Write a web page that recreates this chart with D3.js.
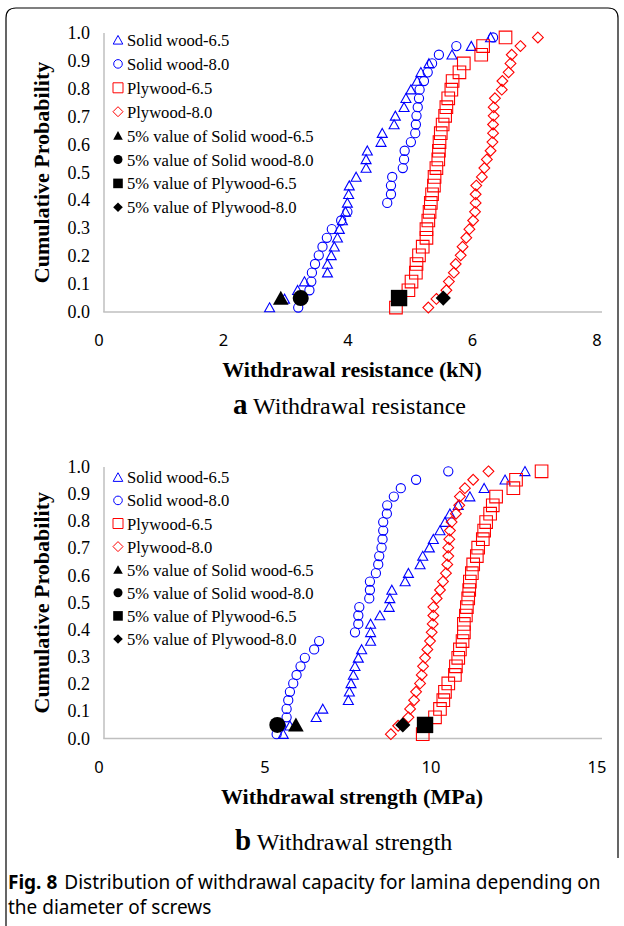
<!DOCTYPE html>
<html>
<head>
<meta charset="utf-8">
<script src="https://cdn.jsdelivr.net/npm/d3@7"></script>
<style>
body { margin: 0; background: #fff; }
</style>
</head>
<body>
<svg id="fig" width="624" height="926"></svg>
<script>
// plotting positions shared by every series (32 specimens each)
var probLevels = [0.016, 0.047, 0.078, 0.109, 0.141, 0.172, 0.203, 0.234, 0.266, 0.297, 0.328, 0.359, 0.391, 0.422, 0.453, 0.484,
                  0.516, 0.547, 0.578, 0.609, 0.641, 0.672, 0.703, 0.734, 0.766, 0.797, 0.828, 0.859, 0.891, 0.922, 0.953, 0.984];

var seriesNames = ["Solid wood-6.5", "Solid wood-8.0", "Plywood-6.5", "Plywood-8.0"];
var fifthNames = ["5% value of Solid wood-6.5", "5% value of Solid wood-8.0", "5% value of Plywood-6.5", "5% value of Plywood-8.0"];
var fifthProb = 0.05;

// (a) withdrawal resistance, kN
var aSolid65 = [2.66, 2.90, 3.11, 3.22, 3.59, 3.59, 3.65, 3.70, 3.75, 3.78, 3.83, 3.88, 3.91, 3.93, 3.94, 4.05,
                4.21, 4.21, 4.23, 4.45, 4.47, 4.66, 4.68, 4.82, 4.85, 4.93, 5.03, 5.09, 5.22, 5.59, 5.90, 6.21];
var aSolid80 = [3.12, 3.20, 3.30, 3.33, 3.34, 3.39, 3.45, 3.51, 3.58, 3.66, 3.81, 3.91, 4.55, 4.61, 4.61, 4.63,
                4.80, 4.82, 4.83, 4.93, 5.00, 5.01, 5.02, 5.04, 5.06, 5.07, 5.14, 5.20, 5.27, 5.38, 5.66, 6.25];
var aPly65 = [4.69, 4.74, 4.89, 4.94, 5.01, 5.02, 5.06, 5.12, 5.18, 5.18, 5.21, 5.23, 5.25, 5.27, 5.30, 5.31,
              5.34, 5.37, 5.38, 5.39, 5.41, 5.44, 5.48, 5.50, 5.53, 5.58, 5.60, 5.71, 5.78, 6.06, 6.09, 6.45];
var aPly80 = [5.21, 5.34, 5.50, 5.54, 5.62, 5.65, 5.73, 5.76, 5.82, 5.87, 5.93, 5.96, 5.97, 5.97, 5.98, 6.07,
              6.11, 6.15, 6.21, 6.24, 6.25, 6.25, 6.26, 6.26, 6.28, 6.39, 6.40, 6.50, 6.53, 6.55, 6.69, 6.97];
var aFifth = [2.84, 3.16, 4.74, 5.45];
var aTicksX = [0, 2, 4, 6, 8];

// (b) withdrawal strength, MPa
var bSolid65 = [5.40, 5.60, 6.39, 6.59, 7.36, 7.39, 7.44, 7.51, 7.56, 7.66, 7.76, 8.03, 8.03, 8.03, 8.31, 8.59,
                8.61, 8.67, 9.07, 9.17, 9.52, 9.60, 9.80, 9.92, 10.12, 10.27, 10.42, 10.67, 11.02, 11.45, 12.08, 12.68];
var bSolid80 = [5.20, 5.33, 5.50, 5.50, 5.55, 5.60, 5.70, 5.80, 5.92, 6.05, 6.33, 6.48, 7.56, 7.66, 7.66, 7.69,
                7.99, 8.01, 8.01, 8.19, 8.26, 8.29, 8.36, 8.39, 8.41, 8.41, 8.52, 8.53, 8.73, 8.94, 9.40, 10.37];
var bPly65 = [9.60, 9.67, 9.97, 10.12, 10.22, 10.27, 10.37, 10.57, 10.60, 10.67, 10.72, 10.80, 10.84, 10.84, 10.90, 10.93,
              10.97, 11.00, 11.02, 11.08, 11.12, 11.23, 11.27, 11.41, 11.45, 11.51, 11.63, 11.71, 11.81, 12.33, 12.41, 13.18];
var bPly80 = [8.64, 8.86, 9.17, 9.22, 9.34, 9.40, 9.52, 9.57, 9.61, 9.67, 9.74, 9.82, 9.87, 9.90, 9.92, 9.92,
              10.02, 10.12, 10.21, 10.30, 10.34, 10.37, 10.37, 10.40, 10.42, 10.47, 10.60, 10.70, 10.72, 10.87, 11.12, 11.58];
var bFifth = [5.78, 5.22, 9.67, 9.00];
var bTicksX = [0, 5, 10, 15];

var yTicks = [0, 0.1, 0.2, 0.3, 0.4, 0.5, 0.6, 0.7, 0.8, 0.9, 1.0];

var BLUE = "#0000ff", RED = "#ff0000", AXIS = "#bfbfbf";
var SERIF = "'Liberation Serif', 'Times New Roman', serif";
var SANS = "'Noto Sans', 'Open Sans', sans-serif";

var svg = d3.select("#fig");
svg.append("rect").attr("width", 624).attr("height", 926).attr("fill", "#fff");

// figure frame, open at the bottom right
svg.append("path")
  .attr("d", "M6,926 L6,18 Q6,8 16,8 L608,8 Q618,8 618,18 L618,858")
  .attr("fill", "none").attr("stroke", "#000").attr("stroke-width", 1.2);

// marker shapes, centred on 0,0
function shapePath(kind, s) {
  if (kind == "tri") return "M0," + (-s * 0.95) + "L" + s + "," + (s * 0.85) + "L" + (-s) + "," + (s * 0.85) + "Z";
  if (kind == "sq") return "M" + (-s) + "," + (-s) + "H" + s + "V" + s + "H" + (-s) + "Z";
  if (kind == "dia") return "M0," + (-s) + "L" + s + ",0L0," + s + "L" + (-s) + ",0Z";
  return d3.arc()({ innerRadius: 0, outerRadius: s, startAngle: 0, endAngle: 2 * Math.PI });
}

var kinds = ["tri", "circ", "sq", "dia"];
var colors = [BLUE, BLUE, RED, RED];
var openSize = [5, 4.6, 6.3, 5.4];
var fillSize = [7.8, 8, 8.2, 7.6];
var legOpen = [4.8, 4.3, 5, 5];
var legFill = [4.8, 4.5, 4.8, 4.8];

function drawPanel(cfg) {
  var x = d3.scaleLinear().domain(cfg.xDomain).range([104, 602]);
  var y = d3.scaleLinear().domain([0, 1]).range([cfg.y0, cfg.y1]);
  var g = svg.append("g");

  // axes
  g.append("line").attr("x1", x(cfg.xDomain[0])).attr("x2", x(cfg.xDomain[0]))
    .attr("y1", y(1)).attr("y2", y(0)).attr("stroke", AXIS).attr("stroke-width", 1.5);
  g.append("line").attr("x1", x(cfg.xDomain[0]) - 0.75).attr("x2", x(cfg.xDomain[1]))
    .attr("y1", y(0)).attr("y2", y(0)).attr("stroke", AXIS).attr("stroke-width", 1.5);

  g.selectAll(".ylab").data(yTicks).enter().append("text")
    .attr("x", 90).attr("y", function(d) { return y(d) + 6; })
    .attr("text-anchor", "end").attr("font-family", SERIF).attr("font-size", 18)
    .text(function(d) { return d3.format(".1f")(d); });

  g.selectAll(".xlab").data(cfg.ticks).enter().append("text")
    .attr("x", function(d) { return x(d) - 5; }).attr("y", y(0) + 34)
    .attr("text-anchor", "middle").attr("font-family", SANS).attr("font-size", 16.5)
    .text(function(d) { return d; });

  g.append("text").attr("transform", "translate(49," + ((y(0) + y(1)) / 2) + ") rotate(-90)")
    .attr("text-anchor", "middle").attr("font-family", SERIF).attr("font-weight", "bold")
    .attr("font-size", 22).text("Cumulative Probability");

  g.append("text").attr("x", 352).attr("y", y(0) + 65)
    .attr("text-anchor", "middle").attr("font-family", SERIF).attr("font-weight", "bold")
    .attr("font-size", 22).text(cfg.xTitle);

  var cap = g.append("text").attr("x", cfg.capX).attr("y", y(0) + cfg.capDy)
    .attr("font-family", SERIF).attr("font-size", 24);
  cap.append("tspan").attr("font-weight", "bold").attr("font-size", 29).text(cfg.letter);
  cap.append("tspan").text(" " + cfg.caption);

  // data series
  cfg.series.forEach(function(vals, k) {
    g.selectAll(".s" + k).data(vals).enter().append("path")
      .attr("transform", function(d, i) { return "translate(" + x(d) + "," + y(probLevels[i]) + ")"; })
      .attr("d", shapePath(kinds[k], openSize[k]))
      .attr("fill", "none").attr("stroke", colors[k]).attr("stroke-width", 1.1);
  });

  g.selectAll(".fifth").data(cfg.fifth).enter().append("path")
    .attr("transform", function(d) { return "translate(" + x(d) + "," + y(fifthProb) + ")"; })
    .attr("d", function(d, k) { return shapePath(kinds[k], fillSize[k]); })
    .attr("fill", "#000");

  // legend
  var leg = g.append("g");
  seriesNames.concat(fifthNames).forEach(function(name, i) {
    var ly = cfg.legY + i * cfg.legStep;
    var k = i % 4;
    var filled = i >= 4;
    leg.append("path").attr("transform", "translate(118," + ly + ")")
      .attr("d", shapePath(kinds[k], filled ? legFill[k] : legOpen[k]))
      .attr("fill", filled ? "#000" : "none")
      .attr("stroke", filled ? "none" : colors[k]).attr("stroke-width", 1);
    leg.append("text").attr("x", 127).attr("y", ly + 6)
      .attr("font-family", SERIF).attr("font-size", 16.6).text(name);
  });
}

drawPanel({
  xDomain: [0, 8], y0: 312, y1: 33, ticks: aTicksX,
  series: [aSolid65, aSolid80, aPly65, aPly80], fifth: aFifth,
  xTitle: "Withdrawal resistance (kN)", letter: "a", caption: "Withdrawal resistance", capX: 233, capDy: 102,
  legY: 40, legStep: 23.9
});

drawPanel({
  xDomain: [0, 15], y0: 738.5, y1: 467, ticks: bTicksX,
  series: [bSolid65, bSolid80, bPly65, bPly80], fifth: bFifth,
  xTitle: "Withdrawal strength (MPa)", letter: "b", caption: "Withdrawal strength", capX: 235, capDy: 111,
  legY: 477.3, legStep: 23.1
});

// figure caption, fitted to the printed line width
var line1 = svg.append("text").attr("x", 8).attr("y", 889).attr("font-family", SANS).attr("font-size", 17);
line1.append("tspan").attr("font-weight", "bold").text("Fig. 8");
line1.append("tspan").attr("dx", 7).text("Distribution of withdrawal capacity for lamina depending on");
var w = line1.node().getComputedTextLength();
var fs = 17 * 586 / w;
line1.attr("font-size", fs);
svg.append("text").attr("x", 8).attr("y", 914).attr("font-family", SANS).attr("font-size", fs)
  .text("the diameter of screws");
</script>
</body>
</html>
